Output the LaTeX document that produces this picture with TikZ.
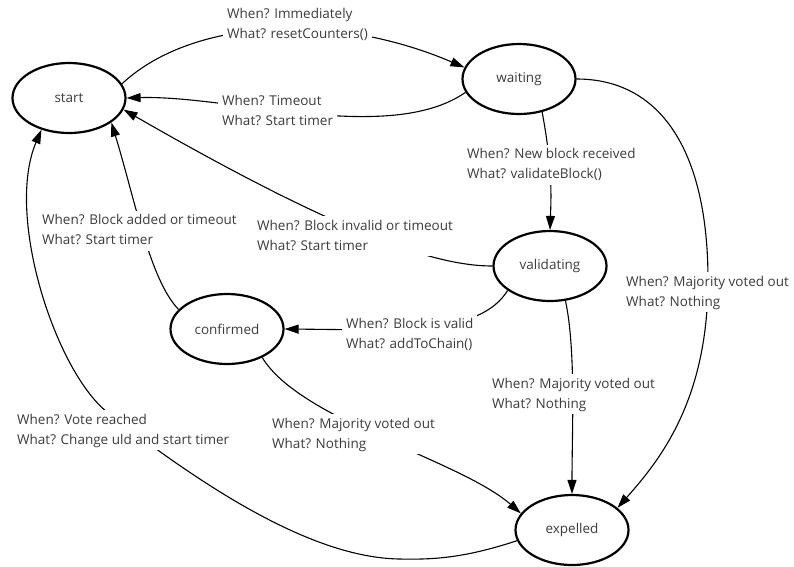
\documentclass[tikz,border=0pt]{standalone}
\usepackage{fontspec}
\setmainfont{Open Sans}
\usetikzlibrary{shapes.geometric,arrows.meta}
\definecolor{textgray}{HTML}{3C3C3C}
\newcommand{\twolines}[2]{\strut #1\\\strut #2}
\begin{document}
\begin{tikzpicture}[x=1pt,y=-1pt,
  state/.style={ellipse,draw,line width=2.2pt,minimum width=113pt,minimum height=70pt,
    inner sep=0pt,text=textgray,font=\fontsize{13.5}{16}\selectfont},
  edge/.style={line width=1.1pt,-{Triangle[length=14pt,width=9pt]}},
  lbl/.style={fill=white,anchor=west,align=left,inner xsep=4pt,inner ysep=0pt,
    text=textgray,font=\fontsize{13.5}{20}\selectfont},
]
\useasboundingbox (0,0) rectangle (794,566);

% states
\node[state] (start)      at (69,98)   {start};
\node[state] (waiting)    at (519,79)  {waiting};
\node[state] (validating) at (550,266) {validating};
\node[state] (confirmed)  at (227,329) {confirmed};
\node[state] (expelled)   at (572,530) {expelled};

% transitions
\draw[edge] (start.15) .. controls (190,20) and (330,10) .. (waiting.168);
\draw[edge] (waiting.194) .. controls (390,145) and (230,95) .. (start.east);
\draw[edge] (waiting.305) .. controls (553,170) and (551,200) .. (validating.north);
\draw[edge] (waiting.east) .. controls (660,79) and (708,150) .. (708,280)
            .. controls (708,400) and (660,460) .. (expelled.26);
\draw[edge] (validating.west) .. controls (440,266) and (350,240) .. (start.348);
\draw[edge] (validating.210) .. controls (480,335) and (400,330) .. (confirmed.east);
\draw[edge] (confirmed.158) .. controls (150,280) and (135,200) .. (start.330);
\draw[edge] (confirmed.321) .. controls (300,420) and (460,460) .. (expelled.162);
\draw[edge] (validating.294) .. controls (576,350) and (572,430) .. (expelled.north);
\draw[edge] (expelled.191) .. controls (470,556) and (440,560) .. (400,559)
            .. controls (320,558) and (220,500) .. (107,412)
            .. controls (55,370) and (5,215) .. (start.229);

% transition labels
\node[lbl] (l1)  at (223,24)    {\twolines{When? Immediately}{What? resetCounters()}};
\node[lbl] (l2)  at (218,111.5) {\twolines{When? Timeout}{What? Start timer}};
\node[lbl] (l3)  at (463,164.5) {\twolines{When? New block received}{What? validateBlock()}};
\node[lbl] (l4)  at (622,292)   {\twolines{When? Majority voted out}{What? Nothing}};
\node[lbl] (l5)  at (253,236)   {\twolines{When? Block invalid or timeout}{What? Start timer}};
\node[lbl] (l6)  at (342,334.5) {\twolines{When? Block is valid}{What? addToChain()}};
\node[lbl] (l7)  at (38,230.5)  {\twolines{When? Block added or timeout}{What? Start timer}};
\node[lbl] (l8)  at (268,434)   {\twolines{When? Majority voted out}{What? Nothing}};
\node[lbl] (l9)  at (488,394)   {\twolines{When? Majority voted out}{What? Nothing}};
\node[lbl] (l10) at (13,430)    {\twolines{When? Vote reached}{What? Change uld and start timer}};
\end{tikzpicture}
\end{document}
